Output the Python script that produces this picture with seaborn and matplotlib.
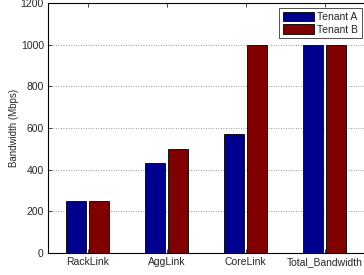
import pandas as pd
import matplotlib
matplotlib.use("Agg")
import matplotlib.pyplot as plt
import seaborn as sns

links = ["RackLink", "AggLink", "CoreLink", "Total_Bandwidth"]
tenant_a = [250, 430, 570, 1000]
tenant_b = [250, 500, 1000, 1000]

df = pd.DataFrame({
    "link": links * 2,
    "bw": tenant_a + tenant_b,
    "tenant": ["Tenant A"] * 4 + ["Tenant B"] * 4,
})

sns.set_style("white")
plt.rcParams["font.family"] = ["Liberation Sans", "DejaVu Sans"]

fig = plt.figure(figsize=(3.64, 2.75), dpi=100)
ax = fig.add_axes([48 / 364, 22 / 275, 316 / 364, 250 / 275])

sns.barplot(data=df, x="link", y="bw", hue="tenant",
            palette=["#00008f", "#800000"], width=0.57, gap=0.12,
            edgecolor="black", linewidth=0.6, saturation=1, ax=ax)

ax.set_xlim(-0.5, 3.5)
ax.set_ylim(0, 1200)
ax.set_yticks(range(0, 1201, 200))
ax.set_xlabel("")
ax.set_ylabel("Bandwidth (Mbps)", fontsize=7, labelpad=1)
ax.yaxis.grid(True, linestyle=(0, (1, 2)), color="#777777", linewidth=0.6)
ax.set_axisbelow(True)
ax.tick_params(direction="in", length=3, labelsize=7.5, width=0.6,
               top=True, bottom=True, left=True, right=False, pad=3)
for side in ["left", "bottom", "top"]:
    ax.spines[side].set_visible(True)
    ax.spines[side].set_color("black")
    ax.spines[side].set_linewidth(0.8)
ax.spines["right"].set_visible(False)

leg = ax.legend(loc="upper right", fontsize=7.5, frameon=True, fancybox=False,
                edgecolor="black", handlelength=3.0, handleheight=1.0,
                borderpad=0.35, labelspacing=0.25, handletextpad=0.3,
                borderaxespad=0, bbox_to_anchor=(314 / 316, 245 / 250))
leg.get_frame().set_linewidth(0.6)

fig.savefig("out.png", dpi=100)
